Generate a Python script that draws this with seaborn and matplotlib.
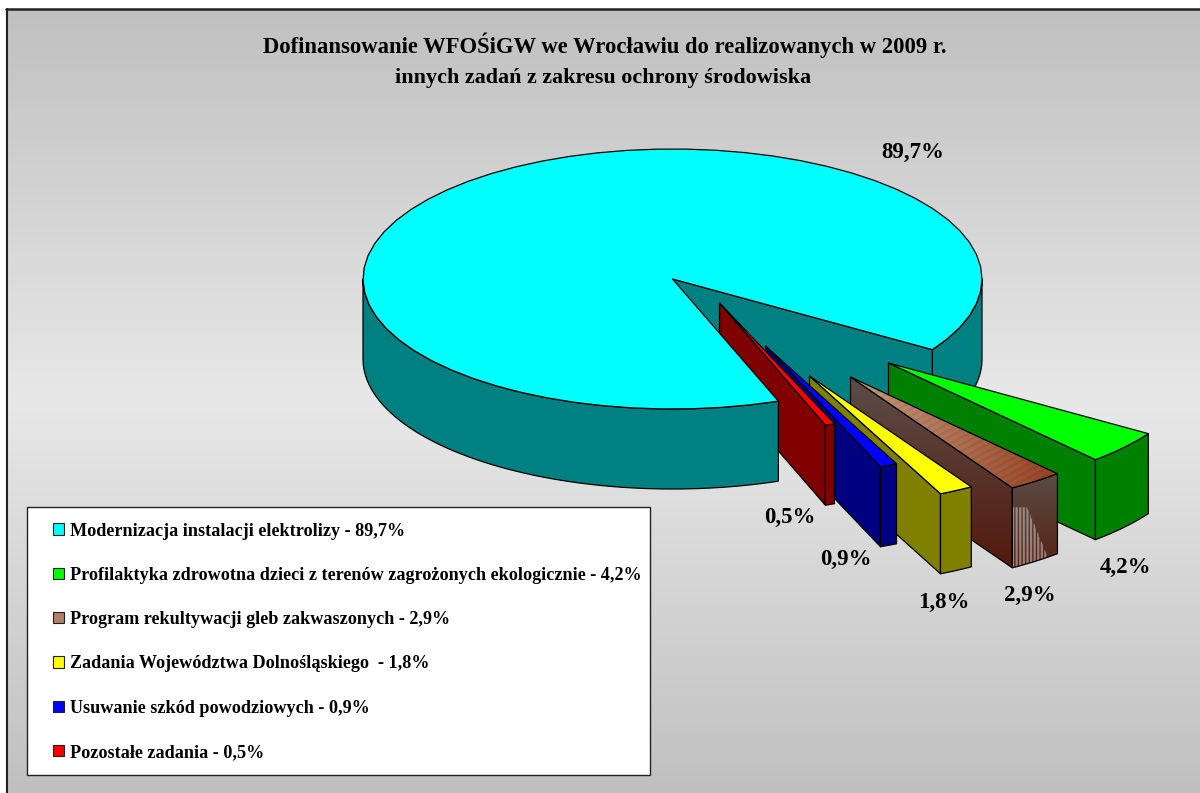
import numpy as np
import matplotlib
matplotlib.use("Agg")
import matplotlib.pyplot as plt
import seaborn as sns
from matplotlib.colors import LinearSegmentedColormap
from matplotlib.patches import Patch, Polygon, Rectangle

# DATA
categories = ["Modernizacja instalacji elektrolizy",
              "Profilaktyka zdrowotna dzieci z terenów zagrożonych ekologicznie",
              "Program rekultywacji gleb zakwaszonych",
              "Zadania Województwa Dolnośląskiego ",
              "Usuwanie szkód powodziowych",
              "Pozostałe zadania"]
shares = [89.7, 4.2, 2.9, 1.8, 0.9, 0.5]
title_lines = ["Dofinansowanie WFOŚiGW we Wrocławiu do realizowanych w 2009 r.",
               "innych zadań z zakresu ochrony środowiska"]

# STYLE
colors = ["#00ffff", "#00ff00", "#b08068", "#ffff00", "#0000ff", "#ff0000"]
explode_x = [0, 216, 178, 137, 93, 47]
explode_y = [0, 84, 98, 97, 67, 24]
label_pos = [(912.5, 158), (1125, 573), (1030, 601), (944, 608), (846, 565), (790, 523)]

# PIE GEOMETRY (pixels of the 1200x793 canvas)
cx, cy, rx, ry, depth = 672.5, 279, 309.5, 130, 80
start_angle = -70

sns.set_theme(style="white")
plt.rcParams["font.family"] = ["Liberation Serif", "DejaVu Serif"]
plt.rcParams["font.weight"] = "bold"

palette = sns.color_palette(colors)
dark = [tuple(np.array(c) * 0.5) for c in palette]

fig = plt.figure(figsize=(12, 7.93), dpi=100, facecolor="white")
ax = fig.add_axes([0, 0, 1, 1])
ax.set_xlim(0, 1200)
ax.set_ylim(793, 0)
ax.axis("off")

# BACKGROUND
bg = LinearSegmentedColormap.from_list("bg", ["#c0c0c0", "#e8e8e8", "#c0c0c0"])
ax.imshow(np.linspace(0, 1, 256)[:, None], cmap=bg, aspect="auto",
          extent=(7, 1200, 793, 9), zorder=0)
ax.plot([7, 7], [793, 9], color="#222222", lw=1.5, zorder=1)
ax.plot([6, 1200], [9, 9], color="#222222", lw=1.8, zorder=1)
ax.set_xlim(0, 1200)
ax.set_ylim(793, 0)


def arc(a0, a1, dx=0, dy=0, drop=0, n=60):
    a = np.radians(np.linspace(a0, a1, n))
    return np.c_[cx + dx + rx * np.cos(a), cy + dy - ry * np.sin(a) + drop]


def poly(pts, color, z):
    ax.add_patch(Polygon(pts, closed=True, facecolor=color, edgecolor="black",
                         lw=0.9, joinstyle="round", zorder=z))


def textured(pts, img, z):
    # brown wedge has a picture fill in the original
    x0, y0 = pts.min(axis=0)
    x1, y1 = pts.max(axis=0)
    im = ax.imshow(img, aspect="auto", extent=(x0, x1, y1, y0), zorder=z,
                   interpolation="bilinear")
    clip = Polygon(pts, closed=True, transform=ax.transData)
    im.set_clip_path(clip)
    ax.add_patch(Polygon(pts, closed=True, facecolor="none", edgecolor="black",
                         lw=0.9, zorder=z + 0.1))
    ax.set_xlim(0, 1200)
    ax.set_ylim(793, 0)


def grad(c0, c1, h=64, w=64, horizontal=False):
    t = np.linspace(0, 1, w)[None, :, None] if horizontal else np.linspace(0, 1, h)[:, None, None]
    return np.array(c0) * (1 - t) + np.array(c1) * t * np.ones((h, w, 1))


# ANGLES FROM THE SHARES (clockwise from the start angle)
sweeps = np.array(shares) / sum(shares) * 360
ends = start_angle - np.cumsum(sweeps)
starts = ends + sweeps

main_end = ends[0] + 360
center = np.array([cx, cy])

# back part of the main slice: cut face and wall right of it
z = 2
wall = arc(main_end, 0)
poly(np.r_[wall, arc(0, main_end, drop=depth)], dark[0], z)
a_pt = arc(main_end, main_end, n=1)[0]
poly([center, a_pt, a_pt + [0, depth], center + [0, depth]], dark[0], z + 0.5)
z = 3

# EXPLODED WEDGES, back to front
for i in range(1, len(shares)):
    dx, dy = explode_x[i], explode_y[i]
    tip = center + [dx, dy]
    outer = arc(starts[i], ends[i], dx, dy, n=12)
    last = outer[-1]
    face = np.array([tip, last, last + [0, depth], tip + [0, depth]])
    wall = np.r_[outer, outer[::-1] + [0, depth]]
    top = np.r_[[tip], outer]
    if i == 2:
        face_img = grad((0.36, 0.30, 0.28), (0.33, 0.10, 0.05))
        textured(face, face_img, z)
        wall_img = grad((0.35, 0.30, 0.27), (0.35, 0.13, 0.07))
        # pale streaks low on the outer wall
        xx, yy = np.meshgrid(np.arange(64), np.arange(64))
        streak = (yy > 22) & (xx < 20 + (yy - 22) * 0.85) & (xx % 5 < 3)
        wall_img[streak] = wall_img[streak] * 0.4 + 0.45
        textured(wall, wall_img, z + 0.2)
        top_img = grad((0.78, 0.62, 0.52), (0.60, 0.26, 0.13), horizontal=True)
        xx, yy = np.meshgrid(np.arange(64), np.arange(64))
        top_img[(xx + yy) % 4 < 1] *= 0.88
        textured(top, top_img, z + 0.4)
    else:
        poly(face, dark[i], z)
        poly(wall, dark[i], z + 0.2)
        poly(top, palette[i], z + 0.4)
    z += 1

# front of the main slice sits over the small wedges
wall = arc(start_angle, -180)
poly(np.r_[wall, arc(-180, start_angle, drop=depth)], dark[0], z)
poly(np.r_[[center], arc(start_angle, ends[0])], palette[0], z + 0.5)
z += 1

# DATA LABELS
for val, (x, y) in zip(shares, label_pos):
    ax.text(x, y, f"{val:.1f}".replace(".", ",") + "%", ha="center", va="baseline",
            fontsize=16.5, fontweight="bold", color="black", zorder=z)

# TITLE
ax.text(605, 53, title_lines[0], ha="center", va="baseline", fontsize=16.3,
        fontweight="bold", color="black", zorder=z)
ax.text(603.5, 83.5, title_lines[1], ha="center", va="baseline", fontsize=15.9,
        fontweight="bold", color="black", zorder=z)

# LEGEND
ax.add_patch(Rectangle((27, 507), 623, 268, facecolor="white", edgecolor="#222222",
                       lw=1.0, zorder=z))
handles = [Patch(facecolor=c, edgecolor="#222222", lw=0.8) for c in palette]
labels = [f"{c} - " + f"{v:.1f}".replace(".", ",") + "%" for c, v in zip(categories, shares)]
leg = ax.legend(handles, labels, loc="lower left", bbox_to_anchor=(53, 761),
                bbox_transform=ax.transData, prop={"size": 13.1, "weight": "bold"},
                handlelength=0.6, handleheight=0.6, handletextpad=0.33,
                labelspacing=1.5, borderpad=0, borderaxespad=0, labelcolor="black",
                frameon=False)
leg.set_zorder(z + 1)

plt.savefig("out.png", dpi=100)
